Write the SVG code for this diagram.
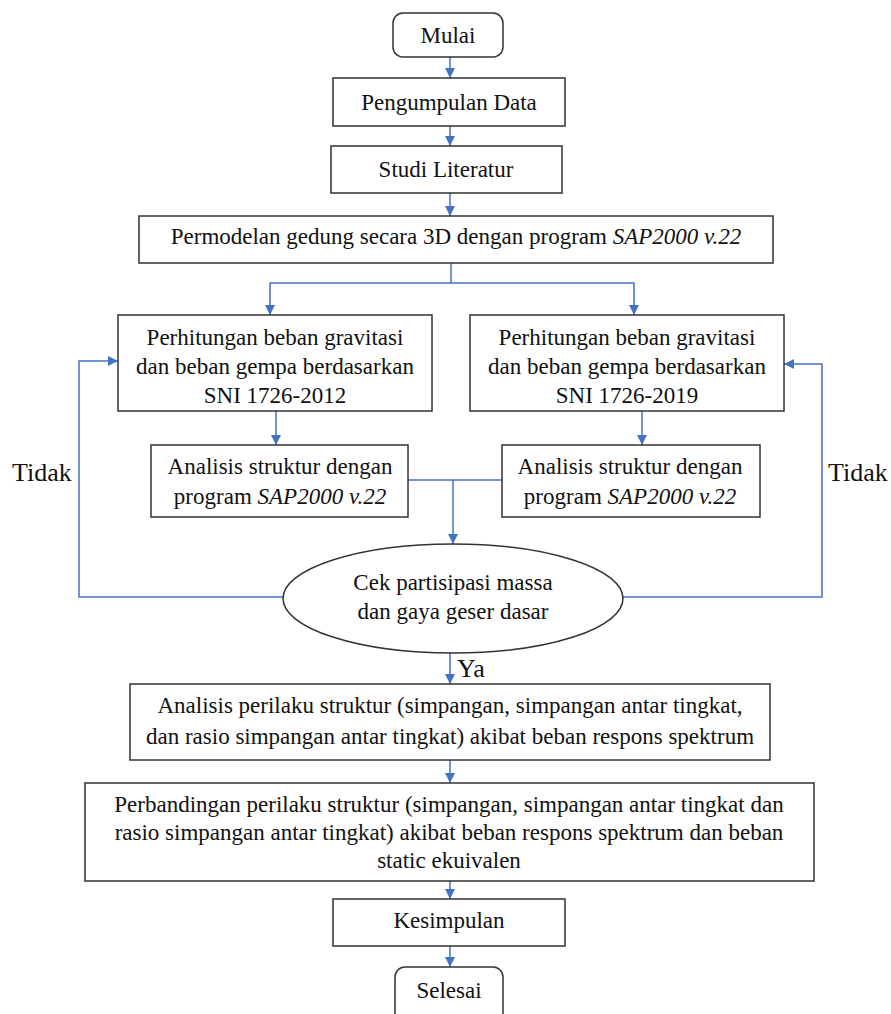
<svg xmlns="http://www.w3.org/2000/svg" width="891" height="1014" viewBox="0 0 891 1014">
<style>
.box{fill:#fff;stroke:#333;stroke-width:1.5}
.c{fill:none;stroke:#4472C4;stroke-width:1.5}
.ca{fill:none;stroke:#4472C4;stroke-width:1.5;marker-end:url(#ah)}
</style>
<defs>
<marker id="ah" viewBox="0 0 10 10" refX="10" refY="5" markerWidth="11" markerHeight="10" markerUnits="userSpaceOnUse" orient="auto">
<path d="M0,0 L10,5 L0,10 z" fill="#4472C4"/>
</marker>
</defs>
<rect width="891" height="1014" fill="#fff"/>
<g id="connectors">
<line class="ca" x1="450" y1="57" x2="450" y2="78"/>
<line class="ca" x1="450" y1="126" x2="450" y2="146"/>
<line class="ca" x1="450" y1="193" x2="450" y2="216"/>
<polyline class="c" points="451,263 451,283"/>
<polyline class="ca" points="451,283 270,283 270,315"/>
<polyline class="ca" points="451,283 634,283 634,315"/>
<line class="ca" x1="276" y1="411" x2="276" y2="445"/>
<line class="ca" x1="642" y1="411" x2="642" y2="445"/>
<line class="c" x1="408" y1="480" x2="502" y2="480"/>
<line class="ca" x1="453" y1="480" x2="453" y2="544"/>
<polyline class="ca" points="283,597 79,597 79,361 118,361"/>
<polyline class="ca" points="623,597 822,597 822,364 784,364"/>
<line class="ca" x1="450" y1="653" x2="450" y2="684"/>
<line class="ca" x1="450" y1="760" x2="450" y2="783"/>
<line class="ca" x1="450" y1="881" x2="450" y2="899"/>
<line class="ca" x1="450" y1="946" x2="450" y2="967"/>
<g font-family="'Liberation Serif', 'Times New Roman', serif" font-size="26" fill="#111">
<text x="12" y="481">Tidak</text>
<text x="828" y="481">Tidak</text>
<text x="457" y="677">Ya</text>
</g>
</g>
<g font-family="'Liberation Serif', 'Times New Roman', serif" font-size="23" fill="#111" text-anchor="middle">
<g id="mulai">
<rect class="box" x="393" y="13" width="110" height="44" rx="10"/>
<text x="448" y="43">Mulai</text>
</g>
<g id="pengumpulan">
<rect class="box" x="333" y="78" width="232" height="48"/>
<text x="449" y="110">Pengumpulan Data</text>
</g>
<g id="studi">
<rect class="box" x="331" y="146" width="231" height="47"/>
<text x="446" y="177">Studi Literatur</text>
</g>
<g id="permodelan">
<rect class="box" x="139" y="216" width="634" height="47"/>
<text x="456" y="244">Permodelan gedung secara 3D dengan program <tspan font-style="italic">SAP2000 v.22</tspan></text>
</g>
<g id="perhitungan2012">
<rect class="box" x="118" y="315" width="314" height="96"/>
<text x="275" y="345">Perhitungan beban gravitasi</text>
<text x="275" y="374">dan beban gempa berdasarkan</text>
<text x="275" y="403">SNI 1726-2012</text>
</g>
<g id="perhitungan2019">
<rect class="box" x="470" y="315" width="314" height="96"/>
<text x="627" y="345">Perhitungan beban gravitasi</text>
<text x="627" y="374">dan beban gempa berdasarkan</text>
<text x="627" y="403">SNI 1726-2019</text>
</g>
<g id="analisis1">
<rect class="box" x="151" y="445" width="257" height="72"/>
<text x="280" y="474">Analisis struktur dengan</text>
<text x="280" y="504">program <tspan font-style="italic">SAP2000 v.22</tspan></text>
</g>
<g id="analisis2">
<rect class="box" x="502" y="445" width="258" height="72"/>
<text x="630" y="474">Analisis struktur dengan</text>
<text x="630" y="504">program <tspan font-style="italic">SAP2000 v.22</tspan></text>
</g>
<g id="cek">
<ellipse class="box" cx="453" cy="598.5" rx="170" ry="54.5"/>
<text x="453" y="590">Cek partisipasi massa</text>
<text x="453" y="619">dan gaya geser dasar</text>
</g>
<g id="analisisperilaku">
<rect class="box" x="130" y="684" width="640" height="76"/>
<text x="450" y="713">Analisis perilaku struktur (simpangan, simpangan antar tingkat,</text>
<text x="450" y="744">dan rasio simpangan antar tingkat) akibat beban respons spektrum</text>
</g>
<g id="perbandingan">
<rect class="box" x="85" y="783" width="729" height="98"/>
<text x="449" y="812">Perbandingan perilaku struktur (simpangan, simpangan antar tingkat dan</text>
<text x="449" y="840">rasio simpangan antar tingkat) akibat beban respons spektrum dan beban</text>
<text x="449" y="868">static ekuivalen</text>
</g>
<g id="kesimpulan">
<rect class="box" x="333" y="899" width="232" height="47"/>
<text x="449" y="928">Kesimpulan</text>
</g>
<g id="selesai">
<rect class="box" x="395" y="967" width="108" height="60" rx="10"/>
<text x="449" y="998">Selesai</text>
</g>
</g>
</svg>
